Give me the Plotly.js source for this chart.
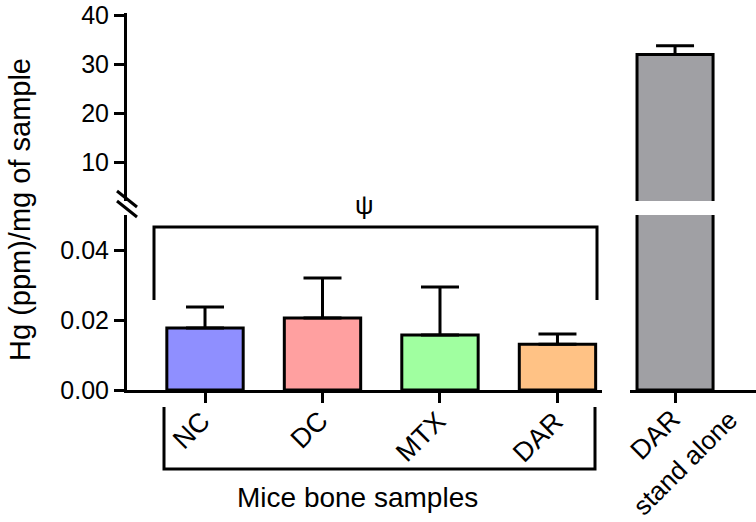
<!DOCTYPE html>
<html>
<head>
<meta charset="utf-8">
<script src="https://cdn.plot.ly/plotly-3.0.1.min.js"></script>
<style>html,body{margin:0;padding:0;background:#fff;}#chart{width:756px;height:522px;}</style>
</head>
<body>
<div id="chart"></div>
<script>
// ---- data ----
const groups = ['NC', 'DC', 'MTX', 'DAR'];
const groupMeans = [0.0177, 0.0206, 0.0157, 0.0131];
const groupSdUp = [0.0060, 0.0114, 0.0137, 0.0029];
const groupSdDown = [0, 0, 0, 0];
const groupColors = ['#8F8FFF', '#FFA0A0', '#A0FFA0', '#FFC285'];

const standAlone = ['DAR stand alone'];
const standAloneLines = ['DAR', 'stand alone'];
const standAloneMean = [32.0];
const standAloneSdUp = [1.8];
const standAloneSdDown = [0];
const standAloneColor = '#A0A0A4';

const lowTickVals = [0, 0.02, 0.04];
const lowTickText = ['0.00', '0.02', '0.04'];
const highTickVals = [10, 20, 30, 40];
const highTickText = ['10', '20', '30', '40'];

const yTitle = 'Hg (ppm)/mg of sample';
const xTitle = 'Mice bone samples';
const sigSymbol = 'ψ';

// ---- styling ----
const FONT = 'Arial, "Liberation Sans", Helvetica, sans-serif';
const W = 756, H = 522;
const px = v => v / W;
const py = v => (H - v) / H;

const barLine = {color: '#000', width: 3};
const errStyle = {thickness: 3, width: 19, color: '#000'};

const traces = [
  {
    type: 'bar', x: groups, y: groupMeans, xaxis: 'x', yaxis: 'y',
    width: 0.65,
    marker: {color: groupColors, line: barLine},
    error_y: Object.assign({type: 'data', symmetric: false, array: groupSdUp, arrayminus: groupSdDown}, errStyle),
    hoverinfo: 'skip'
  },
  {
    type: 'bar', x: standAlone, y: standAloneMean, xaxis: 'x2', yaxis: 'y',
    width: 0.65,
    marker: {color: standAloneColor, line: barLine},
    hoverinfo: 'skip'
  },
  {
    type: 'bar', x: standAlone, y: standAloneMean, xaxis: 'x2', yaxis: 'y2',
    width: 0.65,
    marker: {color: standAloneColor, line: barLine},
    error_y: Object.assign({type: 'data', symmetric: false, array: standAloneSdUp, arrayminus: standAloneSdDown}, errStyle),
    hoverinfo: 'skip'
  }
];

const axisCommon = {
  showgrid: false, zeroline: false, showline: true, linecolor: '#000', linewidth: 3,
  ticks: 'outside', ticklen: 10, tickwidth: 3, tickcolor: '#000',
  ticklabeloverflow: 'allow',
  tickfont: {family: FONT, size: 25, color: '#000'}, fixedrange: true
};

const layout = {
  width: W, height: H,
  margin: {l: 0, r: 0, t: 0, b: 0},
  paper_bgcolor: '#fff', plot_bgcolor: 'rgba(0,0,0,0)',
  showlegend: false,
  bargap: 0,
  xaxis: Object.assign({}, axisCommon, {
    domain: [px(127), px(602)], anchor: 'y',
    type: 'category', range: [-0.664, 3.379],
    showticklabels: false
  }),
  xaxis2: Object.assign({}, axisCommon, {
    domain: [px(630), 1], anchor: 'y',
    type: 'category', range: [-0.385, 0.692],
    showticklabels: false
  }),
  yaxis: Object.assign({}, axisCommon, {
    domain: [py(390), py(215)], anchor: 'x',
    range: [0, 0.05], tickvals: lowTickVals, ticktext: lowTickText
  }),
  yaxis2: Object.assign({}, axisCommon, {
    domain: [py(201), py(13.3)], anchor: 'x',
    range: [2.1, 40.41], tickvals: highTickVals, ticktext: highTickText
  }),
  shapes: [
    // axis break marks
    {type: 'line', xref: 'paper', yref: 'paper', x0: px(117), y0: py(191), x1: px(137), y1: py(207), line: {color: '#000', width: 3}},
    {type: 'line', xref: 'paper', yref: 'paper', x0: px(117), y0: py(201), x1: px(137), y1: py(217), line: {color: '#000', width: 3}},
    // significance bracket above bars
    {type: 'path', xref: 'paper', yref: 'paper',
     path: `M ${px(154)} ${py(300)} L ${px(154)} ${py(227)} L ${px(597)} ${py(227)} L ${px(597)} ${py(300)}`,
     line: {color: '#000', width: 3}},
    // group bracket below labels
    {type: 'path', xref: 'paper', yref: 'paper',
     path: `M ${px(164)} ${py(407)} L ${px(164)} ${py(469)} L ${px(595)} ${py(469)} L ${px(595)} ${py(407)}`,
     line: {color: '#000', width: 3}}
  ],
  annotations: [
    {text: yTitle, xref: 'paper', yref: 'paper', x: px(20), y: py(210), textangle: -90,
     showarrow: false, xanchor: 'center', yanchor: 'middle', font: {family: FONT, size: 29, color: '#000'}},
    {text: xTitle, xref: 'paper', yref: 'paper', x: px(357), y: py(497),
     showarrow: false, xanchor: 'center', yanchor: 'middle', font: {family: FONT, size: 28, color: '#000'}},
    {text: sigSymbol, xref: 'paper', yref: 'paper', x: px(364), y: py(205),
     showarrow: false, xanchor: 'center', yanchor: 'middle', font: {family: FONT, size: 26, color: '#000'}},
    {text: standAloneLines[0], xref: 'paper', yref: 'paper', x: px(655), y: py(435), textangle: -45,
     showarrow: false, xanchor: 'center', yanchor: 'middle', font: {family: FONT, size: 27, color: '#000'}},
    {text: standAloneLines[1], xref: 'paper', yref: 'paper', x: px(685), y: py(463), textangle: -45,
     showarrow: false, xanchor: 'center', yanchor: 'middle', font: {family: FONT, size: 26, color: '#000'}}
  ].concat(groups.map(g => ({
    text: g, xref: 'x', yref: 'paper', x: g, xshift: 14, y: py(403), textangle: -45,
    showarrow: false, xanchor: 'right', yanchor: 'top', font: {family: FONT, size: 27, color: '#000'}
  })))
};

Plotly.newPlot('chart', traces, layout, {staticPlot: true, displayModeBar: false});
</script>
</body>
</html>
